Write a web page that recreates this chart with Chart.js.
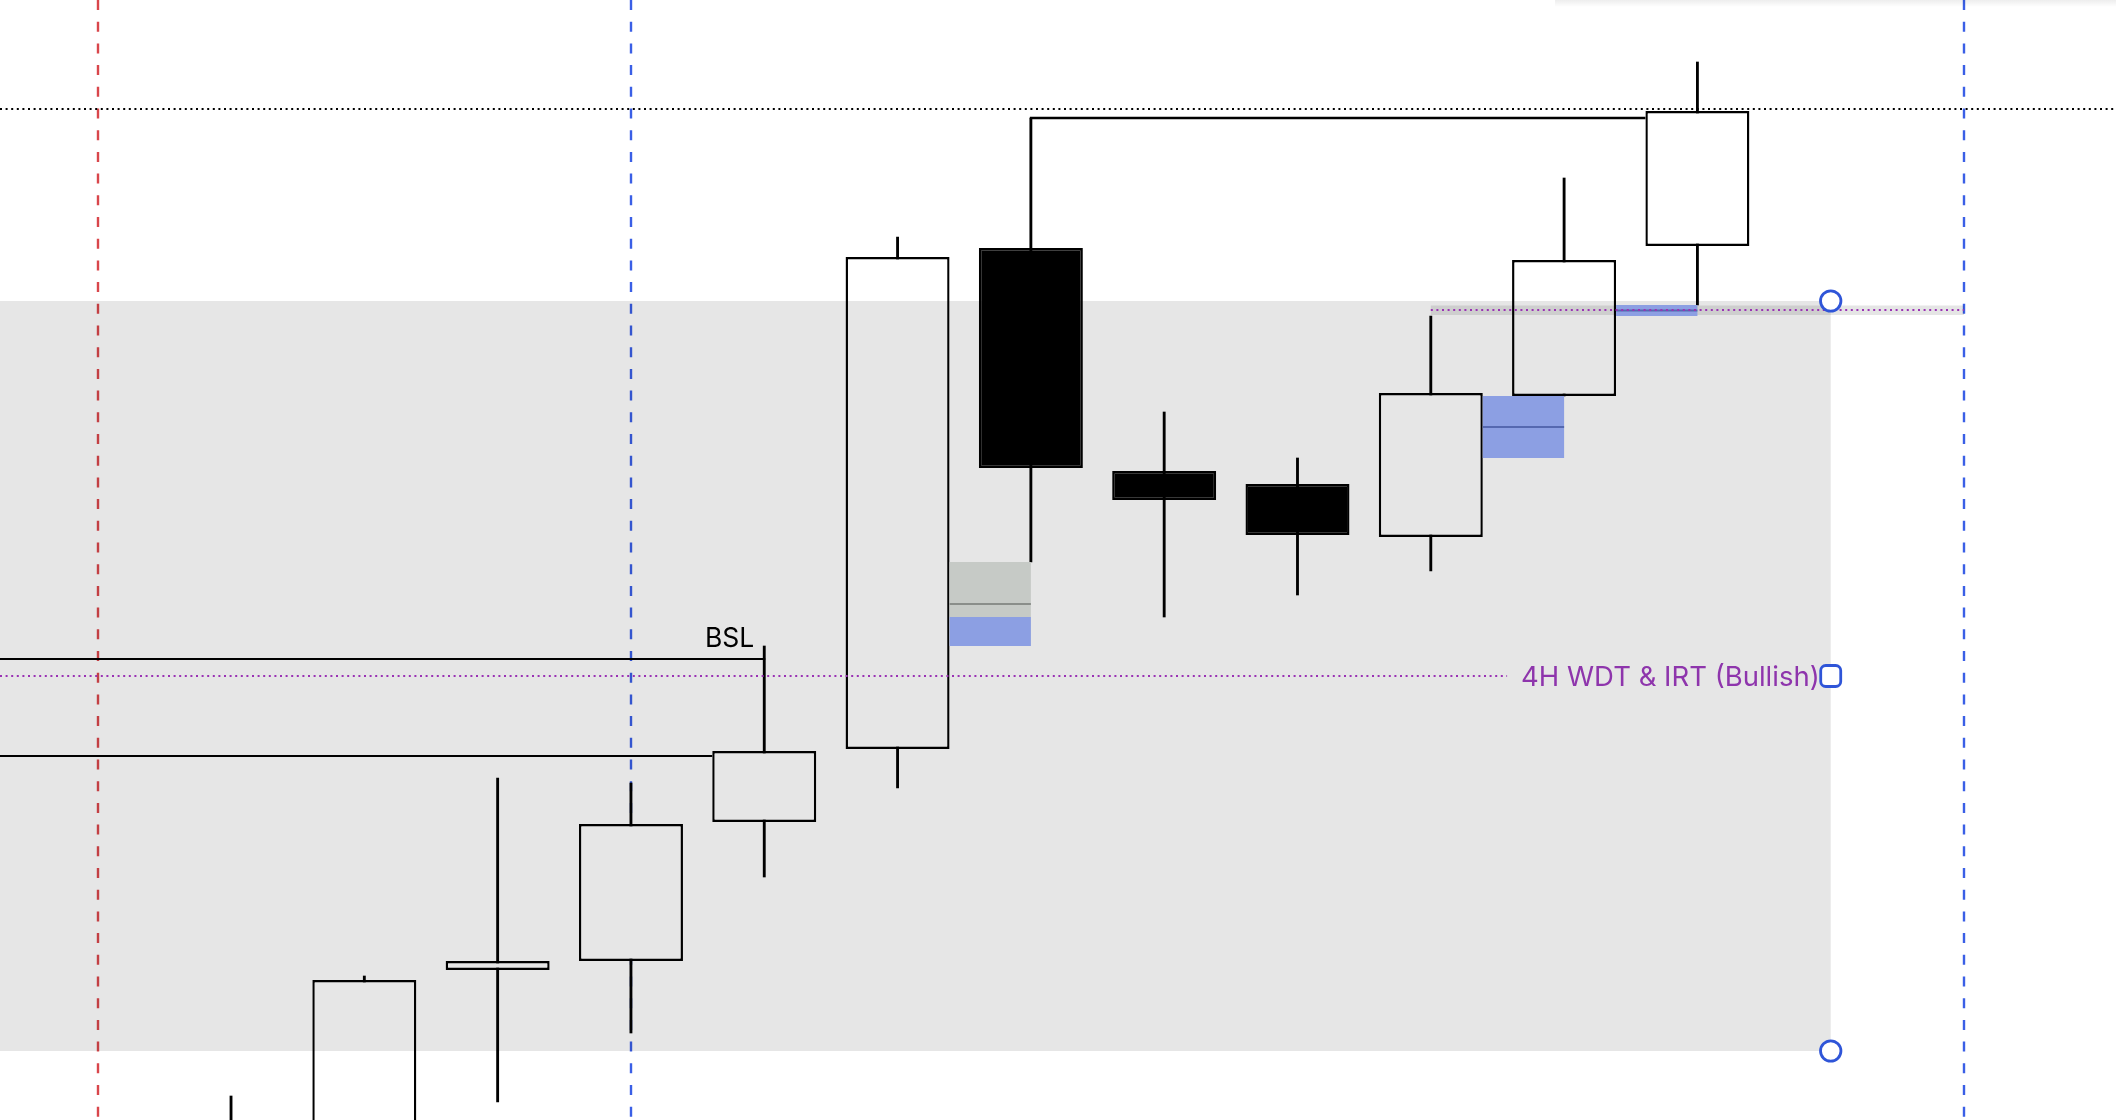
<!DOCTYPE html>
<html>
<head>
<meta charset="utf-8">
<script src="https://cdn.jsdelivr.net/npm/chart.js@4.4.1/dist/chart.umd.min.js"></script>
<style>
  html, body { margin: 0; padding: 0; background: #ffffff; overflow: hidden; }
  #chart-div { width: 2116px; height: 1120px; }
</style>
</head>
<body>
<div id="chart-div"><canvas id="chart" width="2116" height="1120"></canvas></div>
<script>
// candles, left to right (bar index)
const candleIdx = [0, 1, 2, 3, 4, 5, 6, 7, 8, 9, 10, 11]
const opens  = [-120, -40, 150, 159, 298, 371, 872, 649, 636, 583, 724, 874]
const highs  = [24, 144, 342, 337, 474, 883, 1002, 708, 662, 804, 942, 1058]
const lows   = [-150, -80, 18, 87, 243, 332, 558, 503, 525, 549, 724, 815]
const closes = [-20, 140, 159, 296, 369, 863, 652, 620, 585, 727, 860, 1009]

// drawings (price levels and bar indexes)
const vLinesIdx = [-1, 3, 13]
const vLineColors = ['#d9464b', '#3a5fe6', '#3a5fe6']
const topDottedLevel = 1011.5
const bslLevel = 461
const lowerSweepLevel = 364
const wdtLevel = 444
const upperWdtLevel = 810
const zoneTop = 819
const zoneBottom = 69
const zoneEndIdx = 12
const fvgStartIdx = [5, 9, 10]
const fvgLow = [474, 662, 804]
const fvgHigh = [503, 724, 815]
const grayFvgLow = 474
const grayFvgHigh = 558
const bslLabel = 'BSL'
const wdtLabel = '4H WDT & IRT (Bullish)'

const xMin = -1.733
const xMax = 14.14
const bodyPct = 0.78

const upFill = '#ffffff'
const downFill = '#000000'

function dotted(ctx, x1, y1, x2, y2, color, dash, w) {
    ctx.save()
    ctx.strokeStyle = color
    ctx.lineWidth = w || 2
    ctx.setLineDash(dash)
    ctx.beginPath()
    ctx.moveTo(x1, y1)
    ctx.lineTo(x2, y2)
    ctx.stroke()
    ctx.restore()
}

function solid(ctx, x1, y1, x2, y2, color, w) {
    ctx.save()
    ctx.strokeStyle = color
    ctx.lineWidth = w
    ctx.beginPath()
    ctx.moveTo(x1, y1)
    ctx.lineTo(x2, y2)
    ctx.stroke()
    ctx.restore()
}

const drawingsBelow = {
    id: 'drawingsBelow',
    beforeDatasetsDraw(chart) {
        const ctx = chart.ctx
        const xs = chart.scales.x
        const ys = chart.scales.y
        const W = chart.width
        const H = chart.height
        ctx.save()
        ctx.fillStyle = '#ffffff'
        ctx.fillRect(0, 0, W, H)
        // vertical session lines
        vLinesIdx.forEach(function (v, i) {
            const x = Math.round(xs.getPixelForValue(v))
            dotted(ctx, x, 0, x, H, vLineColors[i], [10, 11.7], 2.4)
        })
        // top dotted level
        const yTop = Math.round(ys.getPixelForValue(topDottedLevel))
        dotted(ctx, 0, yTop, W, yTop, '#000000', [2, 3.6], 2.2)
        // liquidity lines
        const yb = ys.getPixelForValue(bslLevel)
        solid(ctx, 0, yb, xs.getPixelForValue(4) + 1, yb, '#000000', 2.2)
        const yl = ys.getPixelForValue(lowerSweepLevel)
        solid(ctx, 0, yl, xs.getPixelForValue(4 - bodyPct / 2), yl, '#000000', 2.2)
        // high of the down candle carried right
        const yh = ys.getPixelForValue(highs[6])
        solid(ctx, xs.getPixelForValue(6) - 1, yh, xs.getPixelForValue(11 - bodyPct / 2), yh, '#000000', 2.4)
        ctx.restore()
    }
}

const drawingsAbove = {
    id: 'drawingsAbove',
    afterDatasetsDraw(chart) {
        const ctx = chart.ctx
        const xs = chart.scales.x
        const ys = chart.scales.y
        const W = chart.width
        ctx.save()
        // range box
        const zx2 = xs.getPixelForValue(zoneEndIdx)
        const zy1 = ys.getPixelForValue(zoneTop)
        const zy2 = ys.getPixelForValue(zoneBottom)
        ctx.fillStyle = 'rgba(0,0,0,0.098)'
        ctx.fillRect(0, zy1, zx2, zy2 - zy1)

        // gray fvg with midline
        const gx1 = xs.getPixelForValue(5 + bodyPct / 2)
        const gx2 = xs.getPixelForValue(6)
        const gy1 = ys.getPixelForValue(grayFvgHigh)
        const gy2 = ys.getPixelForValue(grayFvgLow)
        ctx.fillStyle = '#c6cac6'
        ctx.fillRect(gx1, gy1, gx2 - gx1, gy2 - gy1)
        solid(ctx, gx1, (gy1 + gy2) / 2, gx2, (gy1 + gy2) / 2, '#8a8e8a', 2)

        // second wdt line highlight band
        const yu = ys.getPixelForValue(upperWdtLevel)
        const ux1 = xs.getPixelForValue(9)
        const ux2 = xs.getPixelForValue(13)
        ctx.fillStyle = 'rgba(0,0,0,0.1)'
        ctx.fillRect(ux1, yu - 4.5, ux2 - ux1, 9.5)

        // blue fvgs
        fvgStartIdx.forEach(function (s, i) {
            const x1 = xs.getPixelForValue(s + bodyPct / 2)
            const x2 = xs.getPixelForValue(s + 1)
            const y1 = ys.getPixelForValue(fvgHigh[i])
            const y2 = ys.getPixelForValue(fvgLow[i])
            ctx.fillStyle = '#8c9fe3'
            ctx.fillRect(x1, y1, x2 - x1, y2 - y1)
            if (i > 0) {
                solid(ctx, x1, (y1 + y2) / 2, x2, (y1 + y2) / 2, '#5568b0', 2)
            }
        })

        // purple wdt lines
        const yw = ys.getPixelForValue(wdtLevel)
        ctx.font = '27.5px Inter, "Open Sans", sans-serif'
        const tw = ctx.measureText(wdtLabel).width
        const hx = xs.getPixelForValue(zoneEndIdx)
        const textEnd = hx - 11
        const textStart = textEnd - tw
        dotted(ctx, 0, yw, textStart - 14, yw, '#9a32b4', [2, 3.6])
        dotted(ctx, ux1, yu, ux2, yu, '#9a32b4', [2, 3.6])
        ctx.fillStyle = '#8e35ac'
        ctx.textBaseline = 'middle'
        ctx.textAlign = 'left'
        ctx.fillText(wdtLabel, textStart, yw + 2)

        // BSL label
        ctx.fillStyle = '#000000'
        ctx.font = '26.5px Inter, "Open Sans", sans-serif'
        ctx.textBaseline = 'alphabetic'
        ctx.textAlign = 'right'
        ctx.fillText(bslLabel, xs.getPixelForValue(4) - 10, ys.getPixelForValue(bslLevel) - 12)

        // handles
        ctx.strokeStyle = '#2f55d8'
        ctx.lineWidth = 2.8
        ctx.fillStyle = '#ffffff'
        ;[zoneTop, zoneBottom].forEach(function (v) {
            ctx.beginPath()
            ctx.arc(hx, ys.getPixelForValue(v), 10.2, 0, Math.PI * 2)
            ctx.fill()
            ctx.stroke()
        })
        ctx.beginPath()
        ctx.roundRect(hx - 10, yw - 10.5, 20, 21, 5)
        ctx.fill()
        ctx.stroke()

        // shadow of a panel at the top right
        const g = ctx.createLinearGradient(0, 0, 0, 7)
        g.addColorStop(0, 'rgba(0,0,0,0.07)')
        g.addColorStop(1, 'rgba(0,0,0,0)')
        ctx.fillStyle = g
        ctx.fillRect(1555, 0, W - 1555, 7)
        ctx.restore()
    }
}

const wickData = candleIdx.map(function (x, i) { return { x: x, y: [lows[i], highs[i]] } })
const bodyData = candleIdx.map(function (x, i) { return { x: x, y: [opens[i], closes[i]] } })
const bodyColors = candleIdx.map(function (x, i) { return closes[i] >= opens[i] ? upFill : downFill })

const canvas = document.querySelector('#chart')
let myChart = new Chart(canvas, {
    type: 'bar',
    data: {
        datasets: [{
            label: 'wicks',
            data: wickData,
            backgroundColor: '#000000',
            borderWidth: 0,
            barThickness: 2.2,
            grouped: false,
            order: 2
        }, {
            label: 'bodies',
            data: bodyData,
            backgroundColor: bodyColors,
            borderColor: '#000000',
            borderWidth: 2.4,
            borderSkipped: false,
            barPercentage: bodyPct,
            categoryPercentage: 1,
            grouped: false,
            order: 1
        }]
    },
    options: {
        responsive: false,
        animation: false,
        devicePixelRatio: 1,
        layout: { padding: 0 },
        plugins: {
            legend: { display: false },
            tooltip: { enabled: false }
        },
        scales: {
            x: { type: 'linear', min: xMin, max: xMax, offset: false, display: false },
            y: { type: 'linear', min: 0, max: 1120, display: false }
        }
    },
    plugins: [drawingsBelow, drawingsAbove]
});
</script>
</body>
</html>
